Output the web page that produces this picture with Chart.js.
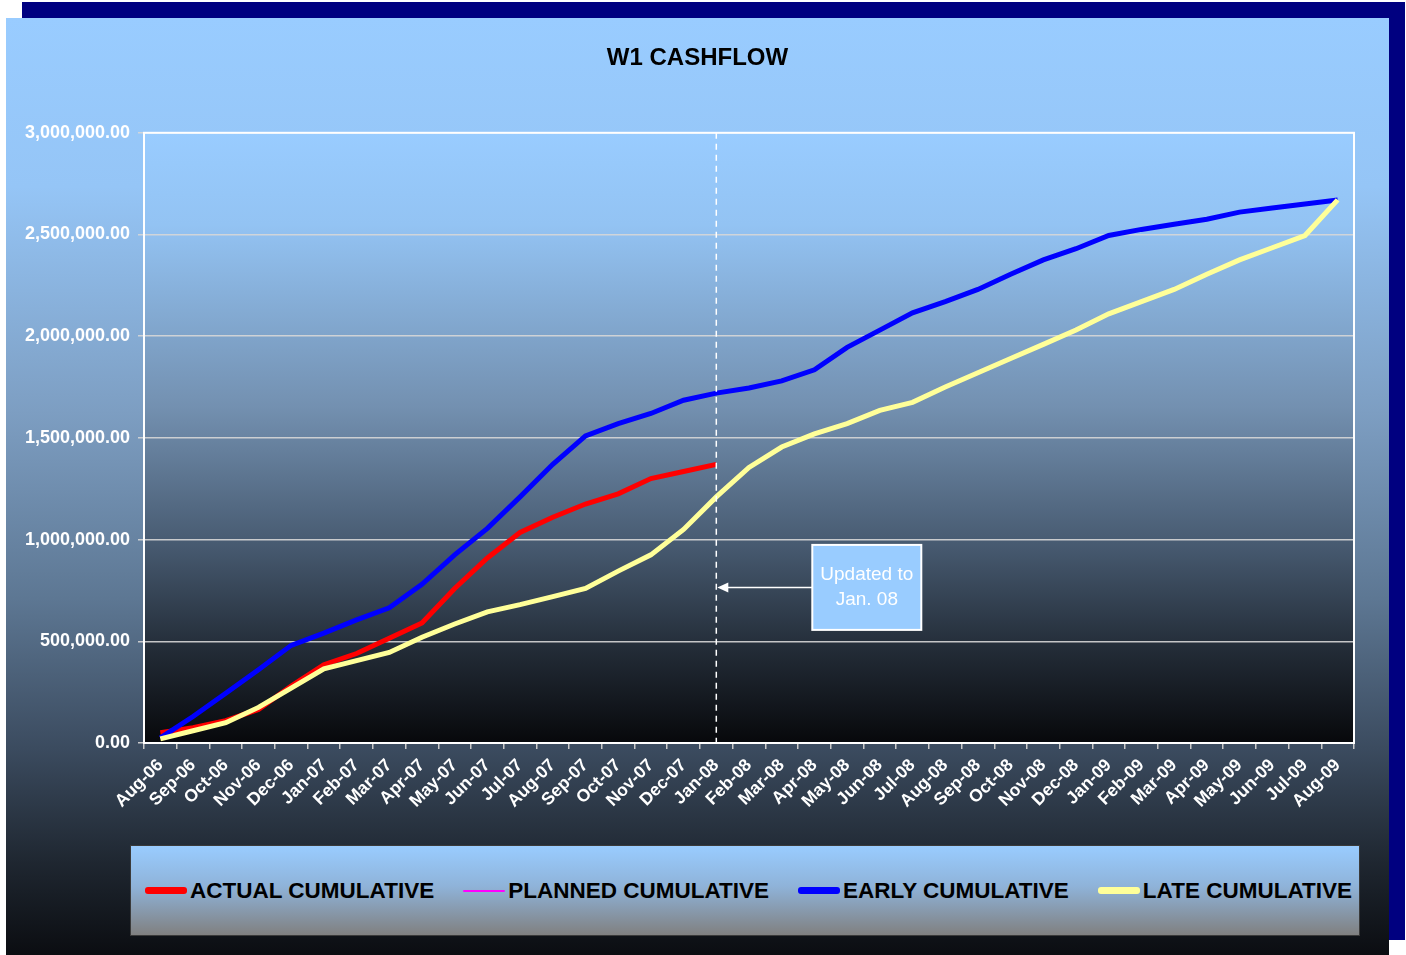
<!DOCTYPE html>
<html>
<head>
<meta charset="utf-8">
<script src="https://cdn.jsdelivr.net/npm/chart.js@4.4.1/dist/chart.umd.min.js"></script>
<style>
  body { margin: 0; background: #fff; width: 1406px; height: 955px; position: relative; overflow: hidden; font-family: "Liberation Sans", Arial, sans-serif; }
  #shadow { position: absolute; left: 22px; top: 2px; width: 1383px; height: 938px; background: #000080; }
  #panel {
    position: absolute; left: 6px; top: 18px; width: 1383px; height: 937px;
    background: linear-gradient(to bottom, #99ccff 0%, #95c5f6 18%, #7d9ec2 42%, #5d7793 62%, #3b4b5f 78%, #1f2731 90%, #0b0d11 100%);
  }
  #chart { position: absolute; left: 0; top: 0; }
  #legend {
    position: absolute; left: 124px; top: 827px; width: 1230px; height: 91px;
    border: 1px solid #3a3a3a;
    background: linear-gradient(to bottom, #99ccff 0%, #8fb3d9 45%, #808080 100%);
    display: flex; align-items: center; padding-left: 14px; box-sizing: border-box; gap: 29px;
  }
  .item { display: flex; align-items: center; font-weight: bold; font-size: 22.5px; color: #000; white-space: nowrap; }
  .swatch { width: 42px; margin-right: 3px; border-radius: 3px; }
</style>
</head>
<body>
<div id="shadow"></div>
<div id="panel">
  <canvas id="chart" width="1383" height="820"></canvas>
  <div id="legend"></div>
</div>
<script>
const months = ["Aug-06", "Sep-06", "Oct-06", "Nov-06", "Dec-06", "Jan-07", "Feb-07", "Mar-07", "Apr-07", "May-07",
  "Jun-07", "Jul-07", "Aug-07", "Sep-07", "Oct-07", "Nov-07", "Dec-07", "Jan-08", "Feb-08", "Mar-08",
  "Apr-08", "May-08", "Jun-08", "Jul-08", "Aug-08", "Sep-08", "Oct-08", "Nov-08", "Dec-08", "Jan-09",
  "Feb-09", "Mar-09", "Apr-09", "May-09", "Jun-09", "Jul-09", "Aug-09"]

const actualCumulative = [50000, 75000, 110000, 165000, 280000, 385000, 440000, 515000, 590000, 760000,
  910000, 1035000, 1110000, 1175000, 1225000, 1300000, 1335000, 1370000]

const plannedCumulative = []

const earlyCumulative = [25000, 130000, 245000, 360000, 480000, 540000, 605000, 665000, 780000, 925000,
  1055000, 1210000, 1370000, 1510000, 1570000, 1620000, 1685000, 1720000, 1745000, 1780000,
  1835000, 1945000, 2030000, 2115000, 2170000, 2230000, 2305000, 2375000, 2430000, 2495000,
  2525000, 2550000, 2575000, 2610000, 2630000, 2650000, 2670000]

const lateCumulative = [20000, 60000, 100000, 175000, 270000, 365000, 405000, 445000, 520000, 585000,
  645000, 680000, 720000, 760000, 845000, 925000, 1050000, 1210000, 1355000, 1455000,
  1520000, 1570000, 1635000, 1675000, 1750000, 1820000, 1890000, 1960000, 2030000, 2110000,
  2170000, 2230000, 2305000, 2375000, 2435000, 2495000, 2670000]

const yTicks = [0, 500000, 1000000, 1500000, 2000000, 2500000, 3000000]

const updatedMonth = "Jan-08"
const noteAnchorValue = 765000
const noteLines = ["Updated to", "Jan. 08"]

const FONT = "'Liberation Sans', Arial, sans-serif"

const series = [
  { label: "ACTUAL CUMULATIVE", data: actualCumulative, color: "#ff0000", width: 5, swatch: 7, order: 3 },
  { label: "PLANNED CUMULATIVE", data: plannedCumulative, color: "#ff00ff", width: 2, swatch: 2, order: 4 },
  { label: "EARLY CUMULATIVE", data: earlyCumulative, color: "#0000ff", width: 5, swatch: 7, order: 2 },
  { label: "LATE CUMULATIVE", data: lateCumulative, color: "#ffff99", width: 5, swatch: 7, order: 1 }
]

const plotBackground = {
  id: "plotBackground",
  beforeDraw(chart) {
    const { ctx, chartArea: a } = chart
    const g = ctx.createLinearGradient(0, a.top, 0, a.bottom)
    g.addColorStop(0, "#99ccff")
    g.addColorStop(0.15, "#93c3f3")
    g.addColorStop(0.45, "#7390b0")
    g.addColorStop(0.68, "#46596f")
    g.addColorStop(0.85, "#222b36")
    g.addColorStop(1, "#07080b")
    ctx.save()
    ctx.fillStyle = g
    ctx.fillRect(a.left, a.top, a.right - a.left, a.bottom - a.top)
    ctx.restore()
  },
  afterDraw(chart) {
    const { ctx, chartArea: a } = chart
    ctx.save()
    ctx.strokeStyle = "#ffffff"
    ctx.lineWidth = 2
    ctx.strokeRect(a.left, a.top, a.right - a.left, a.bottom - a.top)
    ctx.restore()
  }
}

const updateNote = {
  id: "updateNote",
  afterDatasetsDraw(chart) {
    const { ctx, chartArea: a, scales } = chart
    const x = scales.x.getPixelForValue(months.indexOf(updatedMonth))
    const y = scales.y.getPixelForValue(noteAnchorValue)
    ctx.save()
    // dashed marker line
    ctx.strokeStyle = "#ffffff"
    ctx.lineWidth = 1.5
    ctx.setLineDash([6, 5])
    ctx.beginPath()
    ctx.moveTo(x, a.top)
    ctx.lineTo(x, a.bottom)
    ctx.stroke()
    ctx.setLineDash([])

    const boxLeft = x + 96, boxW = 109, boxH = 85
    // arrow
    ctx.lineWidth = 1.5
    ctx.beginPath()
    ctx.moveTo(boxLeft, y)
    ctx.lineTo(x + 10, y)
    ctx.stroke()
    ctx.fillStyle = "#ffffff"
    ctx.beginPath()
    ctx.moveTo(x + 1, y)
    ctx.lineTo(x + 12, y - 5)
    ctx.lineTo(x + 12, y + 5)
    ctx.closePath()
    ctx.fill()

    // note box
    ctx.fillStyle = "#99ccff"
    ctx.fillRect(boxLeft, y - boxH / 2, boxW, boxH)
    ctx.strokeStyle = "#ffffff"
    ctx.lineWidth = 2
    ctx.strokeRect(boxLeft, y - boxH / 2, boxW, boxH)
    ctx.fillStyle = "#ffffff"
    ctx.font = `19px ${FONT}`
    ctx.textAlign = "center"
    ctx.textBaseline = "middle"
    ctx.fillText(noteLines[0], boxLeft + boxW / 2, y - 13)
    ctx.fillText(noteLines[1], boxLeft + boxW / 2, y + 12)
    ctx.restore()
  }
}

new Chart(document.getElementById("chart"), {
  type: "line",
  data: {
    labels: months,
    datasets: series.map(s => ({
      label: s.label,
      data: s.data,
      borderColor: s.color,
      backgroundColor: s.color,
      borderWidth: s.width,
      pointRadius: 0,
      tension: 0,
      order: s.order
    }))
  },
  options: {
    responsive: false,
    animation: false,
    layout: { padding: 0 },
    plugins: {
      legend: { display: false },
      tooltip: { enabled: false },
      title: {
        display: true,
        text: "W1 CASHFLOW",
        color: "#000000",
        font: { family: FONT, size: 24, weight: "bold" },
        padding: { top: 26, bottom: 60 }
      }
    },
    scales: {
      x: {
        offset: true,
        grid: { offset: true, drawOnChartArea: false, tickLength: 6, color: "#c8c8c8", lineWidth: 1.5 },
        border: { display: true, color: "#ffffff", width: 2 },
        ticks: {
          autoSkip: false, maxRotation: 45, minRotation: 45, padding: 6,
          color: "#ffffff",
          font: { family: FONT, size: 17.5, weight: "bold" }
        },
        afterFit(scale) { scale.height = 95 }
      },
      y: {
        min: 0,
        max: 3000000,
        afterBuildTicks(scale) { scale.ticks = yTicks.map(v => ({ value: v })) },
        grid: { color: "rgba(215,215,215,0.9)", lineWidth: 1.5, tickLength: 6 },
        border: { display: true, color: "#ffffff", width: 2 },
        ticks: {
          padding: 8,
          color: "#ffffff",
          font: { family: FONT, size: 18, weight: "bold" },
          callback: v => Number(v).toLocaleString("en-US", { minimumFractionDigits: 2, maximumFractionDigits: 2 })
        },
        afterFit(scale) { scale.width = 138 }
      },
      // empty strip on the right so the plot ends where the reference does
      rightGap: {
        position: "right",
        display: true,
        grid: { display: false },
        border: { display: false },
        ticks: { display: false },
        afterFit(scale) { scale.width = 35 }
      }
    }
  },
  plugins: [plotBackground, updateNote]
})

const legendEl = document.getElementById("legend")
series.forEach(s => {
  const item = document.createElement("div")
  item.className = "item"
  const sw = document.createElement("span")
  sw.className = "swatch"
  sw.style.height = s.swatch + "px"
  sw.style.background = s.color
  item.appendChild(sw)
  item.appendChild(document.createTextNode(s.label))
  legendEl.appendChild(item)
})
</script>
</body>
</html>
